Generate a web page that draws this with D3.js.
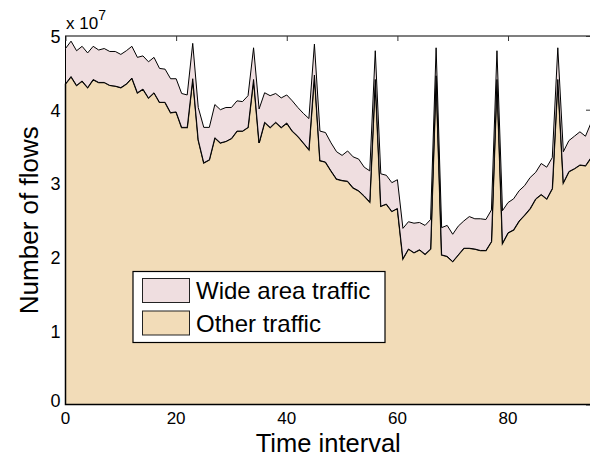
<!DOCTYPE html>
<html>
<head>
<meta charset="utf-8">
<script src="https://cdn.jsdelivr.net/npm/d3@7"></script>
<style type="text/css">
 body { margin:0; background-color:#ffffff; }
 text { font-family:"Liberation Sans", Arial, Helvetica, sans-serif; fill:#000; }
</style>
</head>
<body>
<script type="text/javascript">

 // values in units of 10^7 flows, one per time interval 0..95
 var otherTraffic = [4.35,4.45,4.33,4.39,4.30,4.41,4.37,4.37,4.33,4.32,
                     4.30,4.35,4.43,4.23,4.28,4.16,4.23,4.10,4.10,3.96,
                     3.97,3.76,3.76,4.42,3.59,3.28,3.32,3.62,3.55,3.57,
                     3.61,3.71,3.71,3.76,4.41,3.55,3.83,3.76,3.83,3.76,
                     3.82,3.71,3.64,3.55,3.46,4.47,3.31,3.29,3.17,3.06,
                     3.04,3.03,2.94,2.90,2.83,2.75,4.41,2.69,2.72,2.62,
                     2.66,1.98,2.11,2.06,2.10,2.04,2.11,4.46,2.03,2.01,
                     1.94,2.03,2.12,2.12,2.11,2.09,2.09,2.21,4.41,2.19,
                     2.33,2.37,2.49,2.57,2.66,2.79,2.85,2.79,2.93,4.41,
                     3.01,3.16,3.20,3.25,3.24,3.35];

 var wideAreaTraffic = [0.48,0.48,0.47,0.47,0.47,0.45,0.44,0.46,0.46,0.47,
                        0.45,0.45,0.43,0.48,0.45,0.49,0.48,0.46,0.45,0.46,
                        0.45,0.46,0.44,0.48,0.44,0.48,0.44,0.45,0.45,0.46,
                        0.42,0.41,0.40,0.43,0.43,0.46,0.40,0.43,0.39,0.40,
                        0.38,0.41,0.39,0.40,0.42,0.42,0.40,0.40,0.38,0.37,
                        0.34,0.41,0.42,0.43,0.39,0.42,0.39,0.44,0.39,0.39,
                        0.39,0.41,0.37,0.40,0.37,0.39,0.40,0.38,0.37,0.42,
                        0.37,0.39,0.37,0.43,0.41,0.43,0.42,0.43,0.39,0.44,
                        0.41,0.42,0.41,0.40,0.42,0.36,0.42,0.43,0.42,0.43,
                        0.42,0.42,0.44,0.45,0.40,0.47];

 var xTicks = [0, 20, 40, 60, 80];
 var yTicks = [0, 1, 2, 3, 4, 5];
 var seriesNames = ["Wide area traffic", "Other traffic"];
 var seriesColors = ["#efdee0", "#f2dcb8"];

 var rows = otherTraffic.map(function(d, i) {
   return {t: i, other: d, wide: wideAreaTraffic[i]};
 });

 // plot box (note: "top" is a reserved window global, so use other names)
 var pLeft = 65.5, pRight = 591, pTop = 36, pBottom = 404.5;

 var svg = d3.select("body").append("svg")
     .attr("width", 590)
     .attr("height", 456);

 var x = d3.scaleLinear().domain([0, 95]).range([pLeft, pRight]);
 var y = d3.scaleLinear().domain([0, 5]).range([pBottom, pTop]);

 // box and inward ticks (drawn under the areas, like matlab layer=bottom)
 svg.append("rect")
     .attr("x", pLeft).attr("y", pTop)
     .attr("width", pRight - pLeft).attr("height", pBottom - pTop)
     .attr("fill", "none").attr("stroke", "#000").attr("stroke-width", 1);

 var topAxis = svg.append("g").attr("transform", "translate(0," + pTop + ")")
     .call(d3.axisBottom(x).tickValues(xTicks).tickSize(5).tickFormat(""));
 var rightAxis = svg.append("g").attr("transform", "translate(" + pRight + ",0)")
     .call(d3.axisLeft(y).tickValues(yTicks).tickSize(5).tickFormat(""));
 [topAxis, rightAxis].forEach(function(a) {
   a.select(".domain").remove();
   a.selectAll("line").attr("stroke", "#333");
 });

 // stacked areas
 var stack = d3.stack().keys(["other", "wide"]);
 var layers = stack(rows);

 var area = d3.area()
     .x(function(d) { return x(d.data.t); })
     .y0(function(d) { return y(d[0]); })
     .y1(function(d) { return y(d[1]); });

 svg.selectAll("path.layer")
     .data(layers)
   .enter().append("path")
     .attr("class", "layer")
     .attr("d", area)
     .attr("fill", function(d, i) { return i == 0 ? seriesColors[1] : seriesColors[0]; })
     .attr("stroke", "#000")
     .attr("stroke-width", function(d, i) { return i == 0 ? 1.5 : 1; })
     .attr("stroke-linejoin", "miter");

 // tick labels
 svg.selectAll("text.xt")
     .data(xTicks)
   .enter().append("text")
     .attr("class", "xt")
     .attr("x", function(d) { return x(d); })
     .attr("y", 424)
     .attr("text-anchor", "middle")
     .style("font-size", "17px")
     .text(function(d) { return d; });

 svg.selectAll("text.yt")
     .data(yTicks)
   .enter().append("text")
     .attr("class", "yt")
     .attr("x", pLeft - 5)
     .attr("y", function(d) { return d == 0 ? y(d) + 2 : y(d) + 7; })
     .attr("text-anchor", "end")
     .style("font-size", "18px")
     .text(function(d) { return d; });

 // exponent
 var ex = svg.append("text").attr("x", 66).attr("y", 29).style("font-size", "17px");
 ex.append("tspan").text("x 10");
 ex.append("tspan").attr("dy", -9).style("font-size", "14px").text("7");

 // axis labels
 svg.append("text")
     .attr("x", (pLeft + pRight) / 2)
     .attr("y", 451.5)
     .attr("text-anchor", "middle")
     .style("font-size", "25.5px")
     .text("Time interval");

 svg.append("text")
     .attr("transform", "translate(38," + ((pTop + pBottom) / 2) + ") rotate(-90)")
     .attr("text-anchor", "middle")
     .style("font-size", "26px")
     .text("Number of flows");

 // legend
 var legend = svg.append("g");
 legend.append("rect")
     .attr("x", 133).attr("y", 271.5)
     .attr("width", 252).attr("height", 71)
     .attr("fill", "#fff").attr("stroke", "#000").attr("stroke-width", 1.2);

 var item = legend.selectAll("g.item")
     .data(seriesNames)
   .enter().append("g")
     .attr("class", "item")
     .attr("transform", function(d, i) { return "translate(0," + (i * 32.5) + ")"; });

 item.append("rect")
     .attr("x", 142.5).attr("y", 278.5)
     .attr("width", 47).attr("height", 24)
     .attr("fill", function(d, i) { return seriesColors[i]; })
     .attr("stroke", "#222").attr("stroke-width", 1);

 item.append("text")
     .attr("x", 196)
     .attr("y", 299)
     .style("font-size", "24px")
     .text(function(d) { return d; });

</script>
</body>
</html>
